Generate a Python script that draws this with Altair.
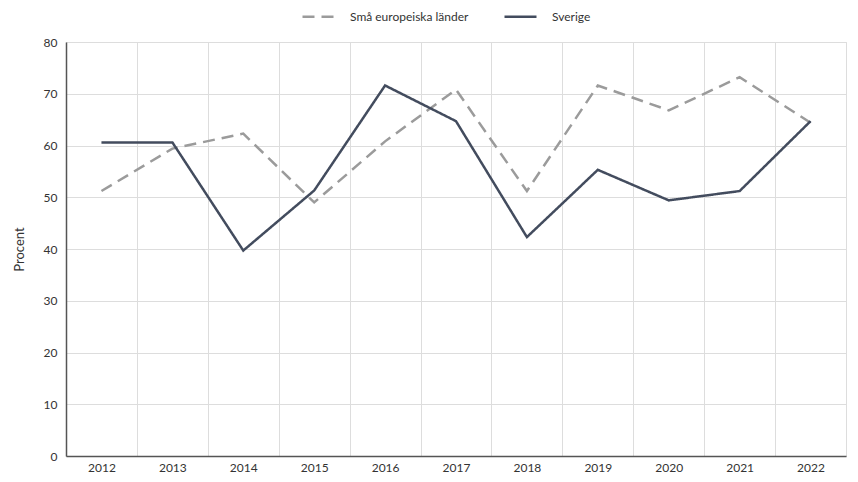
import altair as alt
import pandas as pd

years = [str(y) for y in range(2012, 2023)]
series_names = ["Små europeiska länder", "Sverige"]
small_eu = [51.2, 59.4, 62.3, 49.0, 60.8, 70.8, 51.2, 71.6, 66.8, 73.2, 64.4]
sverige = [60.6, 60.6, 39.7, 51.3, 71.6, 64.7, 42.3, 55.3, 49.4, 51.2, 64.7]

rows = []
for name, vals in zip(series_names, [small_eu, sverige]):
    for y, v in zip(years, vals):
        rows.append({"year": y, "value": v, "series": name})
df = pd.DataFrame(rows)

font = "Lato"
txt = "#333333"

def make_legend():
    return alt.Legend(title=None, orient="none", direction="horizontal",
                      legendX=235, legendY=-43, padding=0, symbolType="stroke",
                      symbolSize=1024, symbolStrokeWidth=2.5,
                      labelFont=font, labelFontSize=12, labelColor=txt,
                      labelOffset=14, columnPadding=30)

chart = alt.Chart(df).mark_line(strokeWidth=2.5).encode(
    x=alt.X("year:O", title=None,
            scale=alt.Scale(type="band", paddingInner=0, paddingOuter=0),
            bandPosition=0.5,
            axis=alt.Axis(labelAngle=0, tickBand="extent", ticks=False, grid=True,
                          gridColor="#dddddd", domainColor="#555555", domainWidth=1.5,
                          labelPadding=6, labelFontSize=12, labelColor=txt, labelFont=font)),
    y=alt.Y("value:Q", title="Procent",
            scale=alt.Scale(domain=[0, 80]),
            axis=alt.Axis(values=list(range(0, 81, 10)), ticks=False, grid=True,
                          gridColor="#dddddd", domainColor="#555555", domainWidth=1.5,
                          labelPadding=9, labelFontSize=12, labelColor=txt, labelFont=font,
                          titleFont=font, titleFontSize=13, titleFontWeight="normal",
                          titleColor=txt, titlePadding=17)),
    color=alt.Color("series:N", sort=series_names,
                    scale=alt.Scale(domain=series_names, range=["#9b9b9b", "#434c5e"]),
                    legend=make_legend()),
    strokeDash=alt.StrokeDash("series:N", sort=series_names,
                              scale=alt.Scale(domain=series_names, range=[[12, 7], [1, 0]]),
                              legend=make_legend()),
).properties(
    width=780, height=414,
    autosize=alt.AutoSizeParams(type="none"),
    padding={"left": 58, "top": 34, "right": 4, "bottom": 18},
).configure_view(stroke=None).configure(background="white")

chart.save("out.html", embed_options={"renderer": "svg", "actions": False})
